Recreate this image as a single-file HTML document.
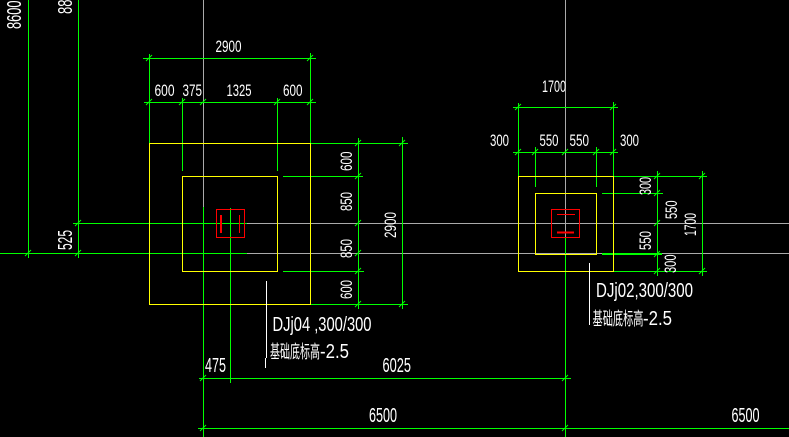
<!DOCTYPE html>
<html>
<head>
<meta charset="utf-8">
<style>
html,body{margin:0;padding:0;background:#000;width:789px;height:437px;overflow:hidden}
svg{display:block}
text{fill:#fff;font-family:"Liberation Sans","Noto Sans CJK SC",sans-serif;font-size:17px;font-weight:normal}
.b{font-size:20px}
.c{font-size:18px}
</style>
</head>
<body>
<svg width="789" height="437" viewBox="0 0 789 437" xmlns="http://www.w3.org/2000/svg">
<rect width="789" height="437" fill="#000"/>
<g shape-rendering="crispEdges" fill="none" stroke-width="1">
<path stroke="#aaa" d="M203.5 0V207M565.5 0V238M247 253.5H789M247 223.5H789"/>
<path stroke="#0f0" d="M203.5 207V437M565.5 238V437M230.5 208V383M0 253.5H247M73 223.5H247
M28.5 0V258M78.5 0V258
M143 58.5H316M149.5 54V143M310.5 53V143
M144 102.5H316M182.5 98V171M277.5 98V171
M310 143.5H408M283 176.5H363M283 271.5H364M310 304.5H408M358.5 138V309M402.5 137V309
M199 378.5H571M198 428.5H789
M513 107.5H618M518.5 103V176M613.5 102V176
M513 152.5H618M535.5 147V187M596.5 147V187
M613 176.5H707M602 193.5H663M613 271.5H707M657.5 171V276M702.5 171V276"/>
<path stroke="#0f0" stroke-width="2" d="M602 254H662"/>
<path stroke="#ff0" d="M149.5 143.5H310.5V304.5H149.5ZM182.5 176.5H277.5V271.5H182.5ZM518.5 176.5H613.5V271.5H518.5ZM535.5 193.5H596.5V254.5H535.5Z"/>
<path stroke="#f00" d="M216.5 209.5H244.5V237.5H216.5ZM551.5 209.5H579.5V237.5H551.5ZM239.5 215V233M557 214.5H575"/>
<path stroke="#f00" stroke-width="2" d="M221 215V233M557 232.5H574"/>
<path stroke="#fff" d="M266.5 281V358M265.5 358V368M589.5 263V325"/>
</g>
<path stroke="#0f0" stroke-width="1" fill="none" d="
M146 61l6-6M307 61l6-6
M146 105l6-6M179 105l6-6M200 105l6-6M274 105l6-6M307 105l6-6
M355 146l6-6M399 146l6-6M355 179l6-6M355 226l6-6M355 256l6-6M355 274l6-6M355 307l6-6M399 307l6-6
M75 226l6-6M75 256l6-6M25 256l6-6
M200 381l6-6M562 381l6-6M200 431l6-6M562 431l6-6
M515 110l6-6M610 110l6-6
M515 155l6-6M532 155l6-6M562 155l6-6M593 155l6-6M610 155l6-6
M654 179l6-6M654 196l6-6M654 226l6-6M654 257l6-6M654 274l6-6M699 179l6-6M699 274l6-6"/>

<text x="215.5" y="52" textLength="26" lengthAdjust="spacingAndGlyphs">2900</text>
<text x="154.5" y="96" textLength="20" lengthAdjust="spacingAndGlyphs">600</text>
<text x="182.5" y="96" textLength="19.5" lengthAdjust="spacingAndGlyphs">375</text>
<text x="226.5" y="96" textLength="25" lengthAdjust="spacingAndGlyphs">1325</text>
<text x="283" y="96" textLength="19.5" lengthAdjust="spacingAndGlyphs">600</text>

<text transform="translate(352,171) rotate(-90)" textLength="19.5" lengthAdjust="spacingAndGlyphs">600</text>
<text transform="translate(352,211) rotate(-90)" textLength="19" lengthAdjust="spacingAndGlyphs">850</text>
<text transform="translate(352,258) rotate(-90)" textLength="19" lengthAdjust="spacingAndGlyphs">850</text>
<text transform="translate(352,299) rotate(-90)" textLength="19" lengthAdjust="spacingAndGlyphs">600</text>
<text transform="translate(396,238) rotate(-90)" textLength="26" lengthAdjust="spacingAndGlyphs">2900</text>

<text x="542" y="92" textLength="24" lengthAdjust="spacingAndGlyphs">1700</text>
<text x="490" y="146" textLength="19" lengthAdjust="spacingAndGlyphs">300</text>
<text x="539.5" y="146" textLength="19" lengthAdjust="spacingAndGlyphs">550</text>
<text x="569.5" y="146" textLength="19.5" lengthAdjust="spacingAndGlyphs">550</text>
<text x="620" y="146" textLength="19" lengthAdjust="spacingAndGlyphs">300</text>

<text transform="translate(651,195) rotate(-90)" textLength="18" lengthAdjust="spacingAndGlyphs">300</text>
<text transform="translate(677,219) rotate(-90)" textLength="18.5" lengthAdjust="spacingAndGlyphs">550</text>
<text transform="translate(696,236) rotate(-90)" textLength="23" lengthAdjust="spacingAndGlyphs">1700</text>
<text transform="translate(651,250) rotate(-90)" textLength="19" lengthAdjust="spacingAndGlyphs">550</text>
<text transform="translate(676,273) rotate(-90)" textLength="18.5" lengthAdjust="spacingAndGlyphs">300</text>

<text class="b" x="596" y="297" textLength="97" lengthAdjust="spacingAndGlyphs">DJj02,300/300</text>
<text class="c" x="592.5" y="325" textLength="51" lengthAdjust="spacingAndGlyphs">基础底标高</text>
<text class="b" x="643" y="325" textLength="29" lengthAdjust="spacingAndGlyphs">-2.5</text>

<text class="b" x="272.5" y="331" textLength="99" lengthAdjust="spacingAndGlyphs">DJj04 ,300/300</text>
<text class="c" x="270" y="358" textLength="50" lengthAdjust="spacingAndGlyphs">基础底标高</text>
<text class="b" x="320" y="358" textLength="29" lengthAdjust="spacingAndGlyphs">-2.5</text>

<text class="b" x="205" y="372" textLength="21" lengthAdjust="spacingAndGlyphs">475</text>
<text class="b" x="382.5" y="372" textLength="28.5" lengthAdjust="spacingAndGlyphs">6025</text>
<text class="b" x="369" y="422" textLength="28" lengthAdjust="spacingAndGlyphs">6500</text>
<text class="b" x="731.5" y="422" textLength="28" lengthAdjust="spacingAndGlyphs">6500</text>

<text class="b" transform="translate(21,29) rotate(-90)" textLength="28.5" lengthAdjust="spacingAndGlyphs">8600</text>
<text class="b" transform="translate(72,14) rotate(-90)" textLength="14.5" lengthAdjust="spacingAndGlyphs">88</text>
<text class="b" transform="translate(72,250) rotate(-90)" textLength="20" lengthAdjust="spacingAndGlyphs">525</text>
</svg>
</body>
</html>
